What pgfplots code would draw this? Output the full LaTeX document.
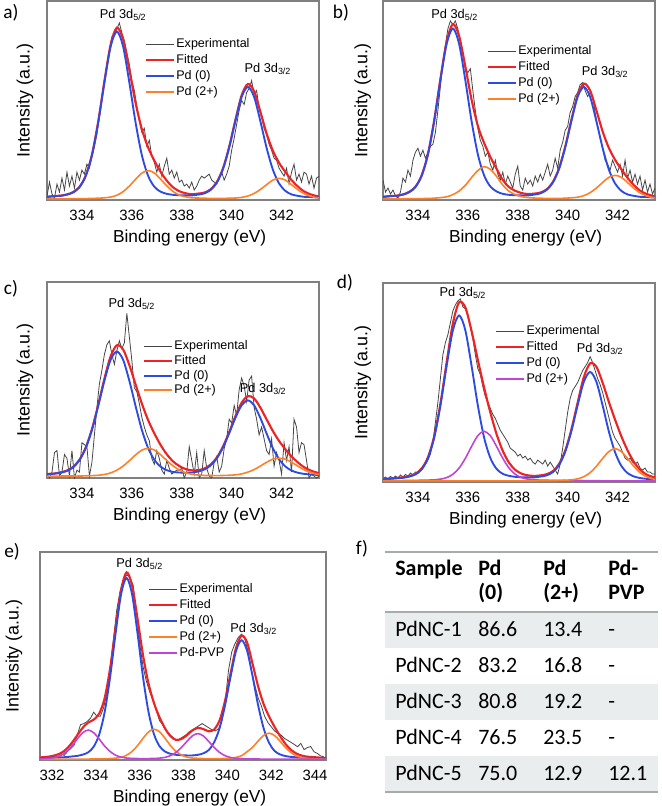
\documentclass[border=0pt]{standalone}
\usepackage{pgfplots}
\usepackage{pgfplotstable}
\pgfplotsset{compat=1.18}
\usepackage{fontspec}
\setmainfont{Liberation Sans}
\newfontfamily\calibri{Carlito}
\definecolor{cexp}{RGB}{70,70,70}
\definecolor{cfit}{RGB}{238,35,35}
\definecolor{cpd0}{RGB}{45,75,225}
\definecolor{cpd2}{RGB}{255,128,40}
\definecolor{cpvp}{RGB}{190,70,210}
\definecolor{cframe}{RGB}{128,128,128}
\definecolor{rowgray}{RGB}{233,237,237}
\definecolor{rulegray}{RGB}{165,172,172}

\pgfplotstableread{
x p0 p2 fit
332.40 1.4 0.6 1.5
332.65 1.6 0.6 1.7
332.90 1.9 0.6 2.0
333.15 2.1 0.6 2.2
333.40 2.7 0.6 2.8
333.65 3.8 0.7 4.0
333.90 6.4 0.7 6.6
334.15 12.0 0.7 12.2
334.40 22.4 0.8 22.7
334.65 38.8 0.9 39.2
334.90 59.0 1.1 59.6
335.15 77.1 1.5 78.1
335.40 84.7 2.4 86.6
335.65 77.1 4.2 80.8
335.90 59.0 7.0 65.5
336.15 38.9 10.4 48.8
336.40 22.6 13.5 35.6
336.65 12.2 14.8 26.5
336.90 6.7 13.6 19.8
337.15 4.2 10.5 14.2
337.40 3.1 7.1 9.7
337.65 2.6 4.3 6.4
337.90 2.4 2.5 4.4
338.15 2.3 1.6 3.4
338.40 2.3 1.1 2.9
338.65 2.7 1.0 3.2
338.90 3.3 0.9 3.7
339.15 5.0 0.8 5.3
339.40 8.6 0.8 8.9
339.65 15.5 0.8 15.8
339.90 26.3 0.9 26.7
340.15 39.7 1.0 40.2
340.40 51.8 1.3 52.6
340.65 56.8 2.0 58.3
340.90 51.8 3.3 54.6
341.15 39.6 5.3 44.4
341.40 26.2 7.7 33.4
341.65 15.3 10.0 24.8
341.90 8.3 10.9 18.7
342.15 4.6 10.0 14.1
342.40 2.8 7.7 10.0
342.65 2.1 5.2 6.8
342.90 1.6 3.2 4.3
343.15 1.5 1.9 2.9
343.40 1.3 1.2 2.0
343.65 1.2 0.9 1.6
}\taba

\pgfplotstableread{
x p0 p2 fit
332.40 1.4 0.6 1.5
332.65 1.6 0.6 1.7
332.90 1.9 0.6 2.0
333.15 2.1 0.6 2.2
333.40 2.7 0.6 2.8
333.65 3.9 0.7 4.1
333.90 6.5 0.7 6.7
334.15 12.2 0.7 12.4
334.40 22.8 0.8 23.1
334.65 39.5 0.9 39.9
334.90 60.1 1.2 60.8
335.15 78.4 1.6 79.5
335.40 86.2 2.7 88.4
335.65 78.4 4.5 82.4
335.90 60.1 7.4 67.0
336.15 39.6 11.3 50.4
336.40 23.0 14.8 37.3
336.65 12.4 16.8 28.7
336.90 6.8 15.4 21.7
337.15 4.3 11.9 15.7
337.40 3.1 7.5 10.1
337.65 2.6 4.4 6.5
337.90 2.4 2.7 4.6
338.15 2.3 1.7 3.5
338.40 2.3 1.2 3.0
338.65 2.7 1.0 3.2
338.90 3.3 0.9 3.7
339.15 5.0 0.8 5.3
339.40 8.6 0.8 8.9
339.65 15.5 0.8 15.8
339.90 26.3 0.9 26.7
340.15 39.7 1.1 40.3
340.40 51.8 1.4 52.7
340.65 56.8 2.2 58.5
340.90 51.8 3.7 55.0
341.15 39.6 6.0 45.1
341.40 26.2 8.8 34.5
341.65 15.3 11.4 26.2
341.90 8.3 12.4 20.2
342.15 4.6 11.4 15.5
342.40 2.8 8.8 11.1
342.65 2.1 5.9 7.5
342.90 1.6 3.6 4.7
343.15 1.5 2.1 3.1
343.40 1.3 1.3 2.1
343.65 1.2 0.9 1.6
}\tabb

\pgfplotstableread{
x p0 p2 fit
332.40 1.8 0.9 1.9
332.65 2.0 0.9 2.1
332.90 2.2 0.9 2.3
333.15 2.7 1.0 2.9
333.40 3.6 1.0 3.8
333.65 5.5 1.0 5.7
333.90 9.1 1.0 9.3
334.15 15.2 1.1 15.5
334.40 24.5 1.2 24.9
334.65 36.6 1.4 37.2
334.90 49.6 1.8 50.6
335.15 60.3 2.6 62.1
335.40 64.5 4.0 67.7
335.65 60.3 6.1 65.6
335.90 49.6 8.8 57.6
336.15 36.7 11.8 47.7
336.40 24.6 14.2 38.0
336.65 15.3 15.1 29.6
336.90 9.3 14.3 22.8
337.15 5.8 11.9 16.9
337.40 4.0 8.9 12.1
337.65 3.1 6.2 8.5
337.90 2.8 4.1 6.1
338.15 2.7 2.7 4.6
338.40 2.8 1.9 3.9
338.65 3.3 1.5 4.0
338.90 4.3 1.3 4.8
339.15 6.3 1.3 6.8
339.40 9.9 1.2 10.3
339.65 15.5 1.3 16.0
339.90 22.8 1.4 23.4
340.15 30.7 1.6 31.5
340.40 37.1 2.1 38.4
340.65 39.6 3.0 41.8
340.90 37.1 4.3 40.6
341.15 30.6 6.1 35.9
341.40 22.7 8.0 29.9
341.65 15.2 9.6 24.0
341.90 9.6 10.1 18.9
342.15 5.9 9.6 14.7
342.40 3.8 8.0 11.0
342.65 2.7 6.1 8.0
342.90 2.1 4.2 5.5
343.15 1.8 2.9 3.9
343.40 1.6 2.0 2.8
343.65 1.5 1.5 2.2
}\tabc

\pgfplotstableread{
x p0 p2a p2b fit
332.40 1.3 0.6 0.6 1.5
332.65 1.4 0.65 0.6 1.6
332.90 1.6 0.7 0.6 1.8
333.15 1.85 0.7 0.6 2.05
333.40 2.1 0.73 0.6 2.35
333.65 2.7 0.75 0.6 3.0
333.90 3.8 0.8 0.6 4.15
334.15 6.3 0.9 0.6 6.75
334.40 11.9 0.95 0.6 12.4
334.65 22.2 1.1 0.6 22.9
334.90 38.3 1.45 0.6 39.3
335.15 58.3 2.2 0.6 60.1
335.40 76.2 3.9 0.6 79.7
335.65 83.7 7.0 0.6 90.3
335.90 76.2 11.9 0.6 87.7
336.15 58.3 17.9 0.6 75.8
336.40 38.5 23.3 0.6 61.4
336.65 22.4 25.5 0.6 47.5
336.90 12.1 23.3 0.6 35.0
337.15 6.6 17.9 0.6 24.1
337.40 4.1 11.9 0.6 15.6
337.65 3.1 7.0 0.6 9.7
337.90 2.6 3.9 0.6 6.1
338.15 2.4 2.2 0.6 4.2
338.40 2.3 1.45 0.6 3.35
338.65 2.3 1.1 0.65 3.05
338.90 2.7 0.95 0.66 3.3
339.15 3.3 0.9 0.7 3.9
339.40 4.9 0.8 0.74 5.4
339.65 8.4 0.75 0.8 8.95
339.90 15.1 0.73 0.9 15.7
340.15 25.6 0.7 1.1 26.4
340.40 38.6 0.7 1.6 39.9
340.65 50.4 0.65 2.7 52.8
340.90 55.3 0.63 4.7 59.6
341.15 50.4 0.63 7.9 57.9
341.40 38.5 0.6 11.8 49.9
341.65 25.4 0.6 15.3 40.3
341.90 14.9 0.6 16.8 31.3
342.15 8.1 0.6 15.3 23.0
342.40 4.5 0.6 11.8 15.9
342.65 2.8 0.6 7.9 10.2
342.90 2.0 0.6 4.7 6.2
343.15 1.6 0.6 2.7 3.8
343.40 1.5 0.6 1.6 2.6
343.65 1.3 0.55 1.1 1.9
}\tabd

\pgfplotstableread{
x p0 p2 pvp fit
331.40 0.9 0.35 0.57 1.2
331.65 1.0 0.36 0.67 1.4
331.90 1.1 0.37 0.86 1.7
332.15 1.2 0.37 1.3 2.3
332.40 1.3 0.37 2.2 3.3
332.65 1.4 0.39 4.0 5.2
332.90 1.7 0.4 6.7 8.2
333.15 2.0 0.42 10.1 11.9
333.40 2.6 0.43 13.1 15.5
333.65 3.7 0.45 14.4 18.0
333.90 6.4 0.5 13.1 19.4
334.15 12.2 0.55 10.1 22.3
334.40 23.0 0.6 6.7 29.7
334.65 39.9 0.7 4.1 44.1
334.90 60.9 0.9 2.3 63.5
335.15 79.7 1.3 1.4 81.8
335.40 87.5 2.3 0.95 90.2
335.65 79.7 4.1 0.77 84.0
335.90 60.9 6.9 0.7 67.9
336.15 39.9 10.4 0.69 50.4
336.40 23.2 13.5 0.69 36.8
336.65 12.4 14.8 0.75 27.4
336.90 6.7 13.6 0.9 20.6
337.15 4.1 10.5 1.26 15.3
337.40 3.0 7.0 2.1 11.5
337.65 2.5 4.2 3.6 9.7
337.90 2.3 2.4 6.0 10.1
338.15 2.2 1.4 8.9 11.9
338.40 2.2 0.95 11.6 14.2
338.65 2.5 0.8 12.7 15.4
338.90 3.2 0.7 11.6 14.9
339.15 4.8 0.67 8.9 13.8
339.40 8.6 0.66 6.0 14.7
339.65 15.5 0.68 3.6 19.2
339.90 26.6 0.74 2.05 28.8
340.15 40.3 0.9 1.2 41.8
340.40 52.6 1.3 0.8 54.1
340.65 57.6 2.1 0.65 59.8
340.90 52.5 4.0 0.55 56.5
341.15 40.2 6.1 0.5 46.2
341.40 26.5 9.1 0.47 35.5
341.65 15.4 11.8 0.44 27.0
341.90 8.3 12.9 0.43 21.0
342.15 4.4 11.8 0.42 16.0
342.40 2.7 9.1 0.41 11.6
342.65 1.9 6.0 0.4 7.7
342.90 1.5 3.6 0.4 4.9
343.15 1.3 2.0 0.39 3.1
343.40 1.1 1.2 0.38 2.1
343.65 1.0 0.8 0.38 1.6
343.90 1.0 0.6 0.37 1.4
344.15 0.9 0.5 0.37 1.2
344.40 0.8 0.45 0.37 1.0
344.65 0.8 0.43 0.36 1.0
}\tabe

\tikzset{
  sexp/.style={draw=cexp, line width=0.6pt},
  sfit/.style={draw=cfit, line width=1.6pt},
  spd0/.style={draw=cpd0, line width=1.4pt},
  spd2/.style={draw=cpd2, line width=1.2pt},
  spvp/.style={draw=cpvp, line width=1.2pt},
  lexp/.style={draw=cexp, line width=0.7pt},
  lfit/.style={draw=cfit, line width=1.6pt},
  lpd0/.style={draw=cpd0, line width=1.5pt},
  lpd2/.style={draw=cpd2, line width=1.5pt},
  lpvp/.style={draw=cpvp, line width=1.5pt},
}
\pgfplotsset{
  xps/.style={
    scale only axis, ymin=0, ymax=100, ytick=\empty,
    axis line style={cframe, line width=0.8pt},
    major tick length=0pt, tick style={draw=none},
    /pgf/number format/assume math mode=true,
    /pgf/number format/set thousands separator={},
    xticklabel style={font=\fontsize{11.2}{12}\selectfont, anchor=base, yshift=-15pt},
    xlabel={Binding energy (eV)}, ylabel={Intensity (a.u.)},
    every axis x label/.style={at={(rel axis cs:0.5,0)}, anchor=base, yshift=-32pt, xshift=5pt, font=\fontsize{13}{14}\selectfont},
    every axis y label/.style={at={(rel axis cs:#1,0.5)}, rotate=90, anchor=center, font=\fontsize{13.4}{14}\selectfont},
    legend style={draw=none, fill=none, anchor=north west, inner sep=0pt,
      font=\fontsize{9.4}{11}\selectfont, row sep=1.4pt,
      nodes={inner sep=0.8pt, text height=7pt, text depth=2pt},
      /tikz/every even column/.append style={column sep=2pt}},
    legend cell align=left,
  },
}
\newcommand\lab{\fontsize{9.6}{10}\selectfont}
\newcommand\legimg[1]{\addlegendimage{legend image code/.code={\draw[#1] (0pt,0pt) -- (21pt,0pt);}}}

\begin{document}
\begin{tikzpicture}
\path[use as bounding box] (0,0) rectangle (495.75pt,-604.5pt);

% ---------------- a ----------------
\begin{axis}[xps=-0.081, at={(35.25pt,-150pt)}, anchor=south west, width=204pt, height=149.25pt,
  xmin=332.6, xmax=343.5, xtick={334,336,338,340,342},
  legend style={at={(0.36,0.819)}}]
\legimg{lexp}\legimg{lfit}\legimg{lpd0}\legimg{lpd2}
\legend{Experimental,Fitted,Pd (0),Pd (2+)}
\addplot[sexp, forget plot] coordinates {(332.6,2)(332.7,9)(332.8,3)(332.9,1)(333.0,8)(333.1,4)(333.2,11)(333.3,5)(333.4,14)(333.5,7)(333.6,12)(333.7,6)(333.8,14)(333.9,10)(334.0,15)(334.1,13)(334.2,18)(334.3,16)(334.4,22)(334.5,27)(334.6,33)(334.7,42)(334.8,50)(334.9,60)(335.0,68)(335.1,75)(335.2,82)(335.3,83)(335.4,86)(335.5,89)(335.6,84)(335.7,80)(335.8,74)(335.9,68)(336.0,60)(336.1,55)(336.2,47)(336.3,40)(336.4,34)(336.5,36)(336.6,27)(336.7,30)(336.8,22)(336.9,19)(337.0,14)(337.1,18)(337.2,12)(337.3,17)(337.4,21)(337.5,13)(337.6,15)(337.7,11)(337.8,14)(337.9,9)(338.0,10)(338.1,7)(338.2,8)(338.3,6)(338.4,9)(338.5,5)(338.6,7)(338.7,10)(338.8,12)(338.9,11)(339.0,12)(339.1,13)(339.2,10)(339.3,9)(339.4,8)(339.5,11)(339.6,14)(339.7,10)(339.8,13)(339.9,17)(340.0,25)(340.1,31)(340.2,38)(340.3,45)(340.4,50)(340.5,48)(340.6,54)(340.7,56)(340.8,60)(340.9,53)(341.0,55)(341.1,46)(341.2,42)(341.3,36)(341.4,33)(341.5,28)(341.6,25)(341.7,21)(341.8,20)(341.9,16)(342.0,14)(342.1,12)(342.2,16)(342.3,8)(342.4,14)(342.5,18)(342.6,10)(342.7,13)(342.8,9)(342.9,14)(343.0,13)(343.1,8)(343.2,12)(343.3,6)(343.4,11)(343.5,12)};
\addplot[sfit, smooth, forget plot] table[x=x,y=fit] {\taba};
\addplot[spd0, smooth, forget plot] table[x=x,y=p0] {\taba};
\addplot[spd2, smooth, forget plot] table[x=x,y=p2] {\taba};
\node[font=\lab] at (axis cs:335.65,93) {Pd 3d\textsubscript{5/2}};
\node[font=\lab] at (axis cs:341.45,66) {Pd 3d\textsubscript{3/2}};
\end{axis}

% ---------------- b ----------------
\begin{axis}[xps=-0.074, at={(287.25pt,-150pt)}, anchor=south west, width=204pt, height=149.25pt,
  xmin=332.6, xmax=343.5, xtick={334,336,338,340,342},
  legend style={at={(0.382,0.784)}}]
\legimg{lexp}\legimg{lfit}\legimg{lpd0}\legimg{lpd2}
\legend{Experimental,Fitted,Pd (0),Pd (2+)}
\addplot[sexp, forget plot] coordinates {(332.6,10)(332.7,4)(332.8,6)(332.9,3)(333.0,5)(333.1,2)(333.2,1)(333.3,4)(333.4,11)(333.5,9)(333.6,15)(333.7,12)(333.8,20)(333.9,24)(334.0,26)(334.1,22)(334.2,25)(334.3,21)(334.4,24)(334.5,27)(334.6,28)(334.7,34)(334.8,45)(334.9,57)(335.0,70)(335.1,78)(335.2,86)(335.3,90)(335.4,88)(335.5,90)(335.6,86)(335.7,80)(335.8,73)(335.9,66)(336.0,64)(336.1,66)(336.2,55)(336.3,45)(336.4,36)(336.5,30)(336.6,27)(336.7,22)(336.8,24)(336.9,18)(337.0,15)(337.1,20)(337.2,13)(337.3,10)(337.4,14)(337.5,8)(337.6,12)(337.7,9)(337.8,6)(337.9,13)(338.0,17)(338.1,7)(338.2,5)(338.3,11)(338.4,8)(338.5,10)(338.6,7)(338.7,12)(338.8,9)(338.9,13)(339.0,10)(339.1,14)(339.2,18)(339.3,12)(339.4,15)(339.5,21)(339.6,16)(339.7,25)(339.8,29)(339.9,35)(340.0,37)(340.1,44)(340.2,47)(340.3,52)(340.4,54)(340.5,58)(340.6,59)(340.7,55)(340.8,52)(340.9,54)(341.0,52)(341.1,44)(341.2,37)(341.3,32)(341.4,26)(341.5,20)(341.6,18)(341.7,15)(341.8,20)(341.9,17)(342.0,14)(342.1,18)(342.2,12)(342.3,20)(342.4,11)(342.5,15)(342.6,9)(342.7,13)(342.8,8)(342.9,12)(343.0,5)(343.1,10)(343.2,4)(343.3,8)(343.4,3)(343.5,6)};
\addplot[sfit, smooth, forget plot] table[x=x,y=fit] {\tabb};
\addplot[spd0, smooth, forget plot] table[x=x,y=p0] {\tabb};
\addplot[spd2, smooth, forget plot] table[x=x,y=p2] {\tabb};
\node[font=\lab] at (axis cs:335.47,93) {Pd 3d\textsubscript{5/2}};
\node[font=\lab] at (axis cs:341.5,64.5) {Pd 3d\textsubscript{3/2}};
\end{axis}

% ---------------- c ----------------
\begin{axis}[xps=-0.081, at={(35.25pt,-358.5pt)}, anchor=south west, width=204pt, height=147pt,
  xmin=332.6, xmax=343.5, xtick={334,336,338,340,342},
  legend style={at={(0.353,0.709)}, row sep=0.4pt}]
\legimg{lexp}\legimg{lfit}\legimg{lpd0}\legimg{lpd2}
\legend{Experimental,Fitted,Pd (0),Pd (2+)}
\addplot[sexp, forget plot] coordinates {(332.6,2)(332.7,0)(332.8,3)(332.9,13)(333.0,14)(333.1,1)(333.2,3)(333.3,12)(333.4,10)(333.5,1)(333.6,14)(333.7,0)(333.8,4)(333.9,3)(334.0,18)(334.1,17)(334.2,16)(334.3,1)(334.4,8)(334.5,22)(334.6,36)(334.7,48)(334.8,55)(334.9,63)(335.0,68)(335.1,70)(335.2,63)(335.3,58)(335.4,65)(335.5,70)(335.6,66)(335.7,69)(335.8,84)(335.9,72)(336.0,60)(336.1,46)(336.2,44)(336.3,38)(336.4,31)(336.5,26)(336.6,22)(336.7,19)(336.8,10)(336.9,7)(337.0,14)(337.1,10)(337.2,4)(337.3,2)(337.4,9)(337.5,5)(337.6,2)(337.7,3)(337.8,4)(337.9,4)(338.0,5)(338.1,0)(338.2,3)(338.3,16)(338.4,9)(338.5,2)(338.6,13)(338.7,0)(338.8,2)(338.9,14)(339.0,5)(339.1,1)(339.2,0)(339.3,8)(339.4,11)(339.5,3)(339.6,6)(339.7,15)(339.8,20)(339.9,30)(340.0,28)(340.1,37)(340.2,32)(340.3,45)(340.4,51)(340.5,47)(340.6,39)(340.7,50)(340.8,52)(340.9,36)(341.0,30)(341.1,22)(341.2,26)(341.3,20)(341.4,14)(341.5,12)(341.6,20)(341.7,6)(341.8,13)(341.9,9)(342.0,2)(342.1,18)(342.2,9)(342.3,16)(342.4,3)(342.5,30)(342.6,26)(342.7,13)(342.8,18)(342.9,17)(343.0,9)(343.1,0)(343.2,2)(343.3,1)(343.4,0)(343.5,1)};
\addplot[sfit, smooth, forget plot] table[x=x,y=fit] {\tabc};
\addplot[spd0, smooth, forget plot] table[x=x,y=p0] {\tabc};
\addplot[spd2, smooth, forget plot] table[x=x,y=p2] {\tabc};
\node[font=\lab] at (axis cs:336.0,88.7) {Pd 3d\textsubscript{5/2}};
\node[font=\lab] at (axis cs:341.26,45.6) {Pd 3d\textsubscript{3/2}};
\end{axis}

% ---------------- d ----------------
\begin{axis}[xps=-0.074, at={(287.25pt,-361.5pt)}, anchor=south west, width=204pt, height=149.25pt,
  xmin=332.6, xmax=343.5, xtick={334,336,338,340,342},
  legend style={at={(0.412,0.794)}}]
\legimg{lexp}\legimg{lfit}\legimg{lpd0}\legimg{lpvp}
\legend{Experimental,Fitted,Pd (0),Pd (2+)}
\addplot[sexp, forget plot] coordinates {(332.6,1.7)(332.7,2.5)(332.8,1.5)(332.9,2.8)(333.0,1.8)(333.1,3.0)(333.2,2.0)(333.3,3.5)(333.4,2.5)(333.5,3.8)(333.6,3.0)(333.7,4.5)(333.8,3.5)(333.9,5.0)(334.0,4.5)(334.1,6.5)(334.2,8)(334.3,9)(334.4,11)(334.5,14)(334.6,20)(334.7,30)(334.8,40)(334.9,52)(335.0,64)(335.1,70)(335.2,74)(335.3,80)(335.4,86)(335.5,89)(335.6,91)(335.7,92)(335.8,88)(335.9,87)(336.0,84)(336.1,78)(336.2,72)(336.3,64)(336.4,57)(336.5,54)(336.6,48)(336.7,43)(336.8,40)(336.9,37)(337.0,34)(337.1,32)(337.2,29)(337.3,26)(337.4,24)(337.5,22)(337.6,20)(337.7,17)(337.8,16)(337.9,15)(338.0,13)(338.1,14)(338.2,12)(338.3,13)(338.4,11)(338.5,12)(338.6,10)(338.7,9)(338.8,11)(338.9,10)(339.0,9)(339.1,11)(339.2,8)(339.3,10)(339.4,8)(339.5,6)(339.6,4)(339.7,9)(339.8,17)(339.9,26)(340.0,35)(340.1,42)(340.2,46)(340.3,48)(340.4,50)(340.5,53)(340.6,56)(340.7,58)(340.8,60)(340.9,63)(341.0,60)(341.1,56)(341.2,52)(341.3,49)(341.4,45)(341.5,40)(341.6,35)(341.7,30)(341.8,25)(341.9,22)(342.0,20)(342.1,18)(342.2,15)(342.3,12)(342.4,11)(342.5,12)(342.6,10)(342.7,9)(342.8,10)(342.9,7)(343.0,6)(343.1,7)(343.2,5)(343.3,5)(343.4,4)(343.5,4)};
\addplot[sfit, smooth, forget plot] table[x=x,y=fit] {\tabd};
\addplot[spd0, smooth, forget plot] table[x=x,y=p0] {\tabd};
\addplot[spvp, smooth, forget plot] table[x=x,y=p2a] {\tabd};
\addplot[spd2, smooth, forget plot] table[x=x,y=p2b] {\tabd};
\node[font=\lab] at (axis cs:335.8,95) {Pd 3d\textsubscript{5/2}};
\node[font=\lab] at (axis cs:341.3,67) {Pd 3d\textsubscript{3/2}};
\end{axis}

% ---------------- e ----------------
\begin{axis}[xps=-0.091, at={(30pt,-570pt)}, anchor=south west, width=214.5pt, height=156pt,
  xmin=331.45, xmax=344.5, xtick={332,334,336,338,340,342,344},
  legend style={at={(0.378,0.856)}}]
\legimg{lexp}\legimg{lfit}\legimg{lpd0}\legimg{lpd2}\legimg{lpvp}
\legend{Experimental,Fitted,Pd (0),Pd (2+),Pd-PVP}
\addplot[sexp, forget plot] coordinates {(331.5,1.0)(331.65,1.5)(331.8,0.8)(331.95,2.0)(332.1,1.5)(332.25,2.5)(332.4,3.0)(332.55,2.2)(332.7,4.0)(332.85,5.5)(333.0,7.0)(333.15,12)(333.3,17)(333.45,17.5)(333.6,18.5)(333.75,20)(333.9,23)(334.05,21)(334.2,21)(334.35,25)(334.5,32)(334.65,44)(334.8,58)(334.95,72)(335.1,81)(335.25,86)(335.4,89)(335.55,88)(335.7,84)(335.85,71)(336.0,56)(336.15,45)(336.3,38)(336.45,33)(336.6,29)(336.75,24)(336.9,19)(337.05,17)(337.2,14)(337.35,12.5)(337.5,11)(337.65,9.5)(337.8,10)(337.95,11)(338.1,12)(338.25,13.5)(338.4,14.5)(338.55,15.5)(338.7,16.5)(338.85,17.5)(339.0,16.5)(339.15,15.5)(339.3,14.5)(339.45,14)(339.6,15)(339.75,19)(339.9,28)(340.05,43)(340.2,52)(340.35,56)(340.5,59)(340.65,60.5)(340.8,58)(340.95,52)(341.1,43)(341.25,36)(341.4,30)(341.55,26)(341.7,21)(341.85,18)(342.0,16)(342.15,14)(342.3,12.8)(342.45,12)(342.6,10.4)(342.75,9.5)(342.9,8.5)(343.05,7.5)(343.2,6.4)(343.35,8)(343.5,5)(343.65,6)(343.8,6.5)(343.95,4)(344.1,3.2)(344.25,2)(344.4,1.5)};
\addplot[sfit, smooth, forget plot] table[x=x,y=fit] {\tabe};
\addplot[spd0, smooth, forget plot] table[x=x,y=p0] {\tabe};
\addplot[spd2, smooth, forget plot] table[x=x,y=p2] {\tabe};
\addplot[spvp, smooth, forget plot] table[x=x,y=pvp] {\tabe};
\node[font=\lab] at (axis cs:336.0,94.4) {Pd 3d\textsubscript{5/2}};
\node[font=\lab] at (axis cs:341.2,63.2) {Pd 3d\textsubscript{3/2}};
\end{axis}

% ---------------- panel letters and table f ----------------
\begin{scope}[x=0.75pt, y=-0.75pt]
\tikzset{plet/.style={font=\calibri\fontsize{14.5}{16}\selectfont, inner sep=0pt}}
\node[plet] at (11,13) {a)};
\node[plet] at (341,13) {b)};
\node[plet] at (11,289) {c)};
\node[plet] at (345,283) {d)};
\node[plet] at (12,552) {e)};
\node[plet] at (362,549) {f)};

\fill[rowgray] (385,612) rectangle (658,648);
\fill[rowgray] (385,684) rectangle (658,720);
\fill[rowgray] (385,756) rectangle (658,792);
\draw[rulegray, line width=0.8pt] (385,552) -- (658,552);
\draw[rulegray, line width=0.8pt] (385,612) -- (658,612);
\draw[rulegray, line width=0.8pt] (385,792) -- (658,792);
\tikzset{tb/.style={font=\calibri\fontsize{16.5}{18}\selectfont, anchor=base west, inner sep=0pt},
         th/.style={tb, font=\calibri\bfseries\fontsize{16.5}{18}\selectfont}}
\node[th] at (395,575) {Sample};
\node[th] at (478,575) {Pd};
\node[th] at (478,599) {(0)};
\node[th] at (543,575) {Pd};
\node[th] at (543,599) {(2+)};
\node[th] at (608,575) {Pd-};
\node[th] at (608,599) {PVP};
\node[tb] at (395,636) {PdNC-1}; \node[tb] at (478,636) {86.6}; \node[tb] at (543,636) {13.4}; \node[tb] at (608,636) {-};
\node[tb] at (395,672) {PdNC-2}; \node[tb] at (478,672) {83.2}; \node[tb] at (543,672) {16.8}; \node[tb] at (608,672) {-};
\node[tb] at (395,708) {PdNC-3}; \node[tb] at (478,708) {80.8}; \node[tb] at (543,708) {19.2}; \node[tb] at (608,708) {-};
\node[tb] at (395,744) {PdNC-4}; \node[tb] at (478,744) {76.5}; \node[tb] at (543,744) {23.5}; \node[tb] at (608,744) {-};
\node[tb] at (395,780) {PdNC-5}; \node[tb] at (478,780) {75.0}; \node[tb] at (543,780) {12.9}; \node[tb] at (608,780) {12.1};
\end{scope}
\end{tikzpicture}
\end{document}
